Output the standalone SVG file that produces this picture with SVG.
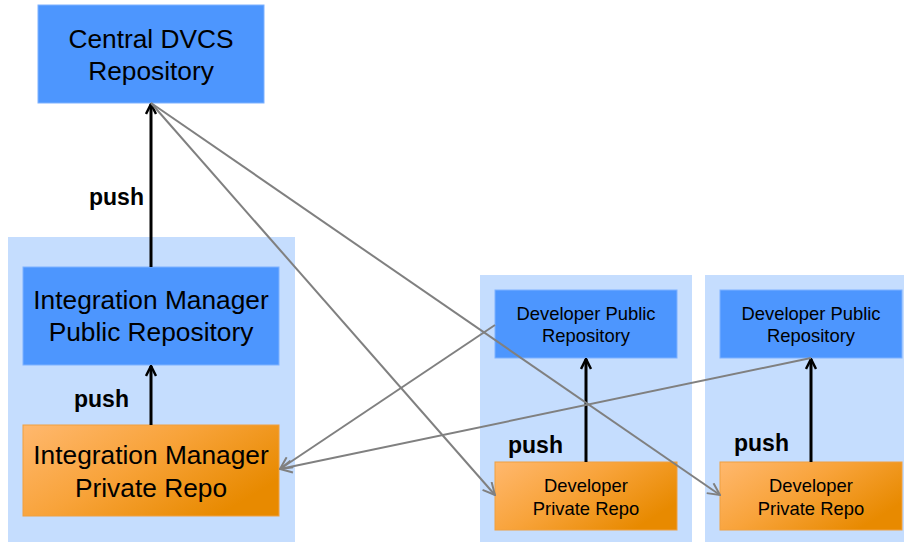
<svg xmlns="http://www.w3.org/2000/svg" width="904" height="542" viewBox="0 0 904 542">
<style>
.cont{fill:#C5DDFE}
.blue{fill:#4D96FE;stroke:#7FB2FF;stroke-width:1}
.orange{fill:url(#og);stroke:#F0A040;stroke-width:1}
text{font-family:"Liberation Sans",Arial,sans-serif;fill:#000;text-anchor:middle}
.big{font-size:26.3px}
.sm{font-size:18.4px}
.push{font-size:23px;font-weight:bold;text-anchor:start}
.pushline{stroke:#000;stroke-width:3;fill:none;marker-end:url(#ab)}
.grey{stroke:#808080;stroke-width:2;fill:none;marker-end:url(#ag)}
</style>
<defs>
<linearGradient id="og" x1="0" y1="0" x2="1" y2="0.6">
<stop offset="0" stop-color="#FFB86E"/>
<stop offset="0.5" stop-color="#F8A33A"/>
<stop offset="1" stop-color="#E88A00"/>
</linearGradient>
<marker id="ab" viewBox="0 0 12 12" refX="11" refY="6" markerWidth="12" markerHeight="12" markerUnits="userSpaceOnUse" orient="auto">
<path d="M1,1 L11,6 L1,11" fill="none" stroke="#000" stroke-width="2.5"/>
</marker>
<marker id="ag" viewBox="0 0 14 14" refX="13" refY="7" markerWidth="14" markerHeight="14" markerUnits="userSpaceOnUse" orient="auto">
<path d="M1,1 L13,7 L1,13" fill="none" stroke="#808080" stroke-width="2"/>
</marker>
</defs>
<rect class="cont" x="8" y="237" width="287" height="305"/>
<rect class="cont" x="480" y="275" width="212" height="267"/>
<rect class="cont" x="705" y="275" width="199" height="267"/>
<g id="central">
<rect class="blue" x="38" y="5" width="226" height="98"/>
<text class="big" x="151" y="48">Central DVCS</text>
<text class="big" x="151" y="80">Repository</text>
</g>
<g id="im-public">
<rect class="blue" x="23" y="267" width="256" height="98"/>
<text class="big" x="151" y="309">Integration Manager</text>
<text class="big" x="151" y="341">Public Repository</text>
</g>
<g id="im-private">
<rect class="orange" x="23" y="425" width="256" height="91"/>
<text class="big" x="151" y="464">Integration Manager</text>
<text class="big" x="151" y="497">Private Repo</text>
</g>
<g id="dev1-public">
<rect class="blue" x="495" y="290" width="182" height="68"/>
<text class="sm" x="586" y="320">Developer Public</text>
<text class="sm" x="586" y="342">Repository</text>
</g>
<g id="dev1-private">
<rect class="orange" x="495" y="462" width="182" height="68"/>
<text class="sm" x="586" y="492">Developer</text>
<text class="sm" x="586" y="515">Private Repo</text>
</g>
<g id="dev2-public">
<rect class="blue" x="720" y="290" width="182" height="68"/>
<text class="sm" x="811" y="320">Developer Public</text>
<text class="sm" x="811" y="342">Repository</text>
</g>
<g id="dev2-private">
<rect class="orange" x="720" y="462" width="182" height="68"/>
<text class="sm" x="811" y="492">Developer</text>
<text class="sm" x="811" y="515">Private Repo</text>
</g>
<g id="connectors">
<line class="pushline" x1="151" y1="267" x2="151" y2="104"/>
<line class="pushline" x1="151" y1="425" x2="151" y2="366"/>
<line class="pushline" x1="586" y1="462" x2="586" y2="359"/>
<line class="pushline" x1="811" y1="462" x2="811" y2="359"/>
<line class="grey" x1="151" y1="103" x2="495" y2="495"/>
<line class="grey" x1="151" y1="103" x2="720" y2="495"/>
<line class="grey" x1="495" y1="325" x2="280" y2="469"/>
<line class="grey" x1="811" y1="358" x2="280" y2="469"/>
<text class="push" x="89" y="205">push</text>
<text class="push" x="74" y="407">push</text>
<text class="push" x="508" y="453">push</text>
<text class="push" x="734" y="451">push</text>
</g>
</svg>
